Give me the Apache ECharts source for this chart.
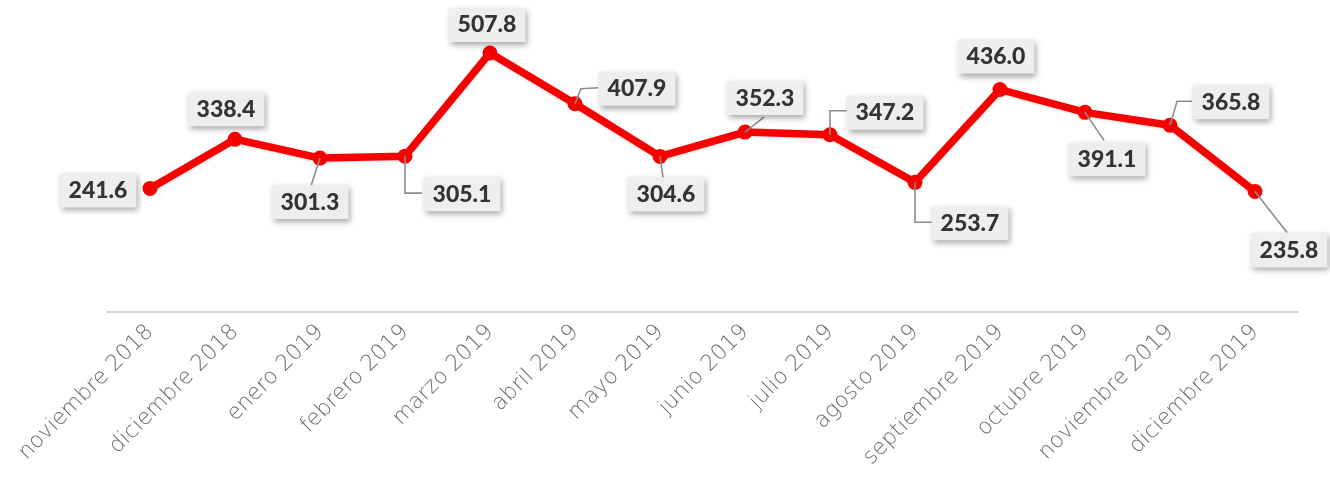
<!DOCTYPE html>
<html>
<head>
<meta charset="utf-8">
<script src="https://cdn.jsdelivr.net/npm/echarts@6/dist/echarts.min.js"></script>
<style>
  html, body { margin: 0; padding: 0; background: #ffffff; }
  #chart { width: 1330px; height: 484px; }
</style>
</head>
<body>
<div id="chart"></div>
<script>
// Monthly values, noviembre 2018 – diciembre 2019
const months = [
  'noviembre 2018', 'diciembre 2018', 'enero 2019', 'febrero 2019', 'marzo 2019',
  'abril 2019', 'mayo 2019', 'junio 2019', 'julio 2019', 'agosto 2019',
  'septiembre 2019', 'octubre 2019', 'noviembre 2019', 'diciembre 2019'
];
const values = [241.6, 338.4, 301.3, 305.1, 507.8, 407.9, 304.6, 352.3, 347.2, 253.7, 436.0, 391.1, 365.8, 235.8];

// Where each value box sits relative to its point (pixels)
const labelOffsets = [
  [-52, 2], [-9, -30], [-10, 44], [57, 38], [-3, -28], [62, -15], [6, 38],
  [20, -34], [55, -22], [55, 41], [-4, -33], [22, 47], [61, -23], [34, 59]
];
// Leader line routes from each point towards its box (pixels, relative to the point)
const leaderRoutes = [
  null, null, [[0, 0], [-9, 28]], [[0, 0], [0, 37], [17, 37]], null,
  [[0, 0], [6, -15], [23, -16]], [[0, 0], [3, 21]], [[0, 0], [19, -15]],
  [[0, 0], [0, -24], [17, -24]], [[0, 0], [0, 40], [18, 40]], null,
  [[0, 0], [19, 28]], [[0, 0], [7, -24], [22, -24]], [[0, 0], [32, 41]]
];

const chart = echarts.init(document.getElementById('chart'), null, { renderer: 'canvas' });

const RED = '#f70000';

chart.setOption({
  animation: false,
  backgroundColor: '#ffffff',
  grid: { left: 107.5, right: 32.5, top: 6, bottom: 172.5 },
  xAxis: {
    type: 'category',
    data: months,
    boundaryGap: true,
    axisLine: { show: true, lineStyle: { color: '#d6d6d6', width: 2 } },
    axisTick: { show: false },
    axisLabel: {
      rotate: 45,
      margin: 17,
      color: '#6a6a6a',
      fontFamily: 'DejaVu Sans',
      fontWeight: 200,
      fontSize: 22,
      interval: 0
    }
  },
  yAxis: {
    type: 'value',
    min: 0,
    max: 600,
    show: false,
    splitLine: { show: false }
  },
  series: [
    {
      type: 'line',
      data: values,
      z: 3,
      symbol: 'circle',
      symbolSize: 15,
      lineStyle: { color: RED, width: 7.5, shadowColor: 'rgba(0,0,0,0.15)', shadowBlur: 3, shadowOffsetY: 1 },
      itemStyle: { color: RED },
      label: { show: false }
    },
    {
      // value boxes with their leader lines
      type: 'custom',
      z: 5,
      data: values.map((v, i) => [i, v]),
      renderItem: function (params, api) {
        const i = params.dataIndex;
        const pt = api.coord([api.value(0), api.value(1)]);
        const children = [];
        const route = leaderRoutes[i];
        if (route) {
          children.push({
            type: 'polyline',
            shape: { points: route.map(p => [pt[0] + p[0], pt[1] + p[1]]) },
            style: { stroke: '#8c8c8c', lineWidth: 1.6, fill: null },
            z2: 1
          });
        }
        const off = labelOffsets[i];
        children.push({
          type: 'text',
          z2: 2,
          style: {
            text: api.value(1).toFixed(1),
            x: pt[0] + off[0],
            y: pt[1] + off[1],
            align: 'center',
            verticalAlign: 'middle',
            font: '900 23px Lato, "Open Sans", sans-serif',
            fill: '#333333',
            backgroundColor: '#eeeeee',
            padding: [4, 9, 3, 9],
            lineHeight: 27,
            shadowColor: 'rgba(0,0,0,0.35)',
            shadowBlur: 6,
            shadowOffsetX: 2,
            shadowOffsetY: 3
          }
        });
        return { type: 'group', children: children };
      }
    }
  ]
});
</script>
</body>
</html>
